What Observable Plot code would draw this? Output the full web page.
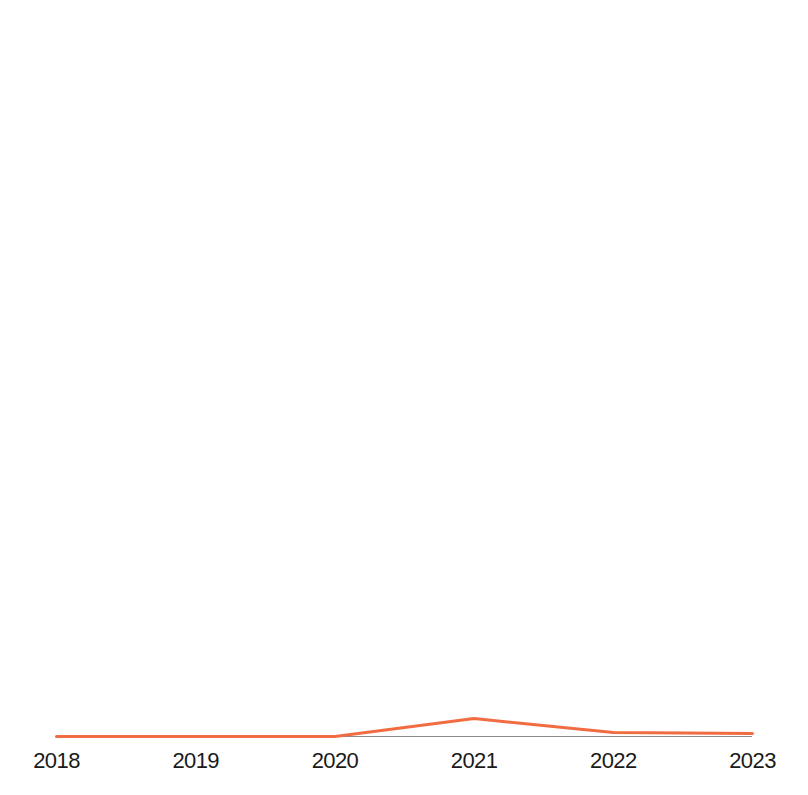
<!DOCTYPE html>
<html>
<head>
<meta charset="utf-8">
<script src="https://cdn.jsdelivr.net/npm/d3@7"></script>
<script src="https://cdn.jsdelivr.net/npm/@observablehq/plot@0.6"></script>
<style>
  html, body { margin: 0; padding: 0; background: #fff; }
  svg text { letter-spacing: -0.6px; }
</style>
</head>
<body>
<div id="chart"></div>
<script>
const years = [2018, 2019, 2020, 2021, 2022, 2023];
const values = [0, 0, 0, 2.5, 0.56, 0.42];
const yDomain = [0, 100];

const data = years.map((year, i) => ({year, value: values[i]}));

const chart = Plot.plot({
  width: 808,
  height: 795,
  marginLeft: 56,
  marginRight: 56,
  marginTop: 20,
  marginBottom: 59,
  style: {
    fontFamily: "'Liberation Sans', Arial, sans-serif",
    fontSize: "22px",
    color: "#1a1a1a",
    background: "#fff",
    overflow: "visible"
  },
  x: {
    domain: [2018, 2023],
    ticks: years,
    tickFormat: "d",
    tickSize: 0,
    tickPadding: 16,
    label: null
  },
  y: { domain: yDomain, axis: null },
  marks: [
    Plot.ruleY([0], { stroke: "#8a8a8a", strokeWidth: 1 }),
    Plot.line(data, { x: "year", y: "value", stroke: "#f26c42", strokeWidth: 3 })
  ]
});
document.getElementById("chart").appendChild(chart);
</script>
</body>
</html>
